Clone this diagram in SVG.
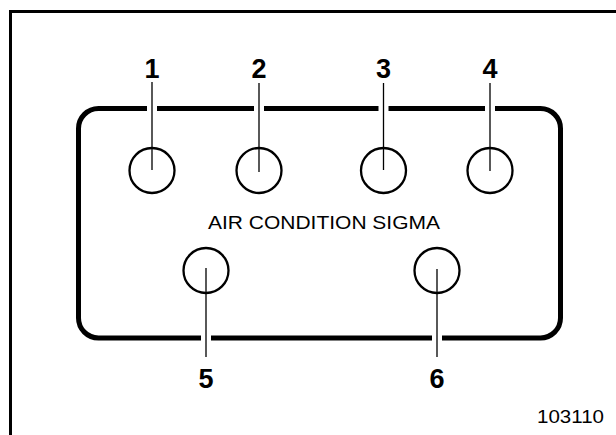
<svg xmlns="http://www.w3.org/2000/svg" width="616" height="435" viewBox="0 0 616 435">
<style>
.frame{fill:none;stroke:#000;stroke-width:3}
.body{fill:none;stroke:#000;stroke-width:5}
.port{fill:#fff;stroke:#000;stroke-width:2.3}
.halo{stroke:#fff;stroke-width:10;fill:none}
.lead{stroke:#000;stroke-width:1.3;fill:none}
.num{font-family:"Liberation Sans",Arial,sans-serif;font-weight:bold;font-size:27px;text-anchor:middle;fill:#000}
.lbl{font-family:"Liberation Sans",Arial,sans-serif;font-size:18.5px;fill:#000}
</style>
<rect width="616" height="435" fill="#fff"/>
<path class="frame" d="M10.5 435 V11.5 H616"/>
<g id="unit">
<rect class="body" x="78.5" y="108.5" width="482" height="229.5" rx="20"/>
<text class="lbl" x="324" y="228.5" text-anchor="middle" textLength="232" lengthAdjust="spacingAndGlyphs">AIR CONDITION SIGMA</text>
</g>
<g id="connectors">
<path class="halo" d="M152 103 V114 M259 103 V114 M383.5 103 V114 M490 103 V114 M206 332 V344 M437 332 V344"/>
</g>
<g id="port1"><circle class="port" cx="152" cy="170.5" r="22.5"/><text class="num" x="152" y="78">1</text></g>
<g id="port2"><circle class="port" cx="259" cy="170.5" r="22.5"/><text class="num" x="259" y="78">2</text></g>
<g id="port3"><circle class="port" cx="383.5" cy="170.5" r="22.5"/><text class="num" x="383.5" y="78">3</text></g>
<g id="port4"><circle class="port" cx="490" cy="170.5" r="22.5"/><text class="num" x="490" y="78">4</text></g>
<g id="port5"><circle class="port" cx="206" cy="270.5" r="22.5"/><text class="num" x="206" y="388">5</text></g>
<g id="port6"><circle class="port" cx="437" cy="270.5" r="22.5"/><text class="num" x="437" y="388">6</text></g>
<g id="leaders">
<path class="lead" d="M152 82 V170 M259 83 V172 M383.5 83 V170 M490 83 V171 M206 268 V357 M437 269 V357"/>
</g>
<text class="lbl" x="604" y="423" text-anchor="end" textLength="67" lengthAdjust="spacingAndGlyphs">103110</text>
</svg>
